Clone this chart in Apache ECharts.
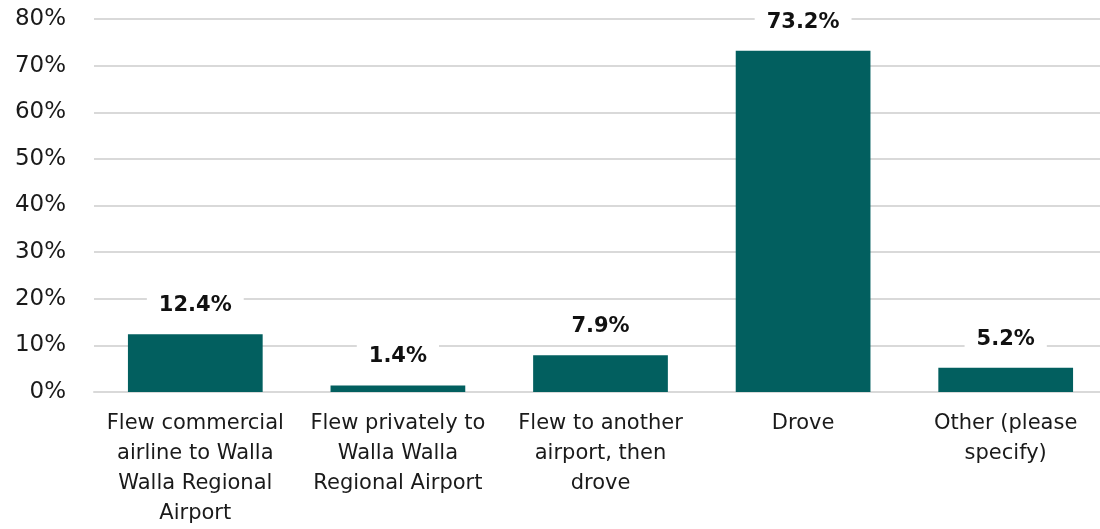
<!DOCTYPE html>
<html>
<head>
<meta charset="utf-8">
<script src="https://cdn.jsdelivr.net/npm/echarts@6/dist/echarts.min.js"></script>
<style>
  html, body { margin: 0; padding: 0; background: #fff; overflow: hidden; }
  #chart { width: 1108px; height: 529px; }
</style>
</head>
<body>
<div id="chart"></div>
<script>
// How respondents travelled to Walla Walla (share of responses, %)
const categories = [
  'Flew commercial\nairline to Walla\nWalla Regional\nAirport',
  'Flew privately to\nWalla Walla\nRegional Airport',
  'Flew to another\nairport, then\ndrove',
  'Drove',
  'Other (please\nspecify)'
];
const shares = [12.4, 1.4, 7.9, 73.2, 5.2];
const yTicks = [0, 10, 20, 30, 40, 50, 60, 70, 80];

const FONT = '"DejaVu Sans", sans-serif';
const chart = echarts.init(document.getElementById('chart'));

chart.setOption({
  backgroundColor: '#ffffff',
  animation: false,
  grid: { left: 94, top: 19, right: 1, height: 375, containLabel: false },
  xAxis: {
    type: 'category',
    data: categories,
    axisLine: { show: true, lineStyle: { color: '#d9d9d9', width: 2 } },
    axisTick: { show: false },
    axisLabel: {
      interval: 0,
      color: '#1a1a1a',
      fontFamily: FONT,
      fontSize: 21,
      lineHeight: 30,
      margin: 17,
      align: 'center'
    }
  },
  yAxis: {
    type: 'value',
    min: yTicks[0],
    max: yTicks[yTicks.length - 1],
    interval: 10,
    axisLine: { show: false },
    axisTick: { show: false },
    splitLine: { lineStyle: { color: '#d9d9d9', width: 2 } },
    axisLabel: {
      color: '#1a1a1a',
      fontFamily: FONT,
      fontSize: 23,
      margin: 28,
      formatter: v => v + '%'
    }
  },
  series: [{
    type: 'bar',
    data: shares,
    barWidth: '66.5%',
    itemStyle: { color: '#025f5f' },
    label: {
      show: true,
      position: 'top',
      distance: 16,
      formatter: p => p.value.toFixed(1) + '%',
      color: '#111',
      fontFamily: FONT,
      fontWeight: 'bold',
      fontSize: 21,
      backgroundColor: '#ffffff',
      padding: [2, 12]
    }
  }]
});
</script>
</body>
</html>
